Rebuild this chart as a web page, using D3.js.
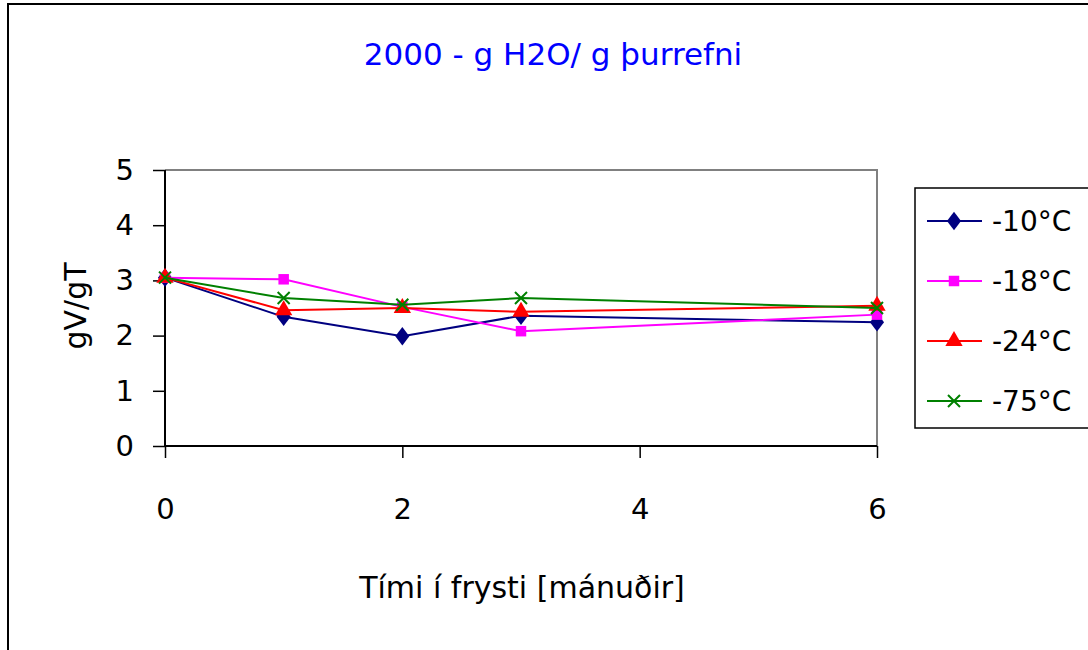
<!DOCTYPE html>
<html><head><meta charset="utf-8">
<script src="https://cdn.jsdelivr.net/npm/d3@7"></script>
<style>body{margin:0;background:#fff}svg{display:block}text{font-family:"Comic Sans MS","DejaVu Sans",sans-serif}</style>
</head><body><svg id="c" width="1088" height="650"></svg>
<script>
const months = [0, 1, 2, 3, 6];
const seriesNames = ["-10°C", "-18°C", "-24°C", "-75°C"];
const s10 = [3.05, 2.34, 1.99, 2.36, 2.24];
const s18 = [3.05, 3.02, 2.52, 2.08, 2.38];
const s24 = [3.05, 2.46, 2.50, 2.43, 2.54];
const s75 = [3.05, 2.68, 2.56, 2.68, 2.50];
const xTicks = [0, 2, 4, 6];
const yTicks = [0, 1, 2, 3, 4, 5];
const titleText = "2000 - g H2O/ g þurrefni";
const xTitle = "Tími í frysti [mánuðir]";
const yTitle = "gV/gT";

const colors = ["#000080", "#ff00ff", "#ff0000", "#008000"];
const symbols = [d3.symbolDiamond, d3.symbolSquare, d3.symbolTriangle, d3.symbolCross];
const data = [s10, s18, s24, s75];

const svg = d3.select("#c");
svg.append("rect").attr("x", 8).attr("y", 4).attr("width", 1100).attr("height", 700)
  .attr("fill", "#fff").attr("stroke", "#000").attr("stroke-width", 2);

const L = 165, R = 877, T = 170, B = 446;
const x = d3.scaleLinear().domain([0, 6]).range([L, R]);
const y = d3.scaleLinear().domain([0, 5]).range([B, T]);

svg.append("path").attr("d", `M${L},${T}H${R}V${B}`).attr("fill", "none").attr("stroke", "#808080").attr("stroke-width", 2);

const yAxis = svg.append("g").attr("transform", `translate(${L},0)`)
  .call(d3.axisLeft(y).tickValues(yTicks).tickSize(12).tickPadding(19).tickFormat(d3.format("d")));
const xAxis = svg.append("g").attr("transform", `translate(0,${B})`)
  .call(d3.axisBottom(x).tickValues(xTicks).tickSize(12).tickPadding(40).tickFormat(d3.format("d")));
[yAxis, xAxis].forEach(g => {
  g.select(".domain").attr("stroke", "#000").attr("stroke-width", 2);
  g.selectAll(".tick line").attr("stroke", "#000").attr("stroke-width", 1.5);
  g.selectAll("text").attr("font-size", 29).attr("fill", "#000").attr("font-family", "\"DejaVu Sans\", sans-serif");
});
yAxis.select(".domain").attr("d", `M0,${T}V${B}`);
xAxis.select(".domain").attr("d", `M${L},0H${R}`);

const line = d3.line().x((d, i) => x(months[i])).y(d => y(d));
function marker(g, k) {
  if (k === 3) {
    g.append("path").attr("d", "M-6,-6L6,6M-6,6L6,-6").attr("stroke", colors[k]).attr("stroke-width", 2).attr("fill", "none");
  } else {
    const size = k === 2 ? 130 : 110;
    g.append("path").attr("d", d3.symbol().type(symbols[k]).size(size)()).attr("fill", colors[k])
      .attr("transform", k === 0 ? "scale(1.25,0.95)" : null);
  }
}
data.forEach((vals, k) => {
  svg.append("path").datum(vals).attr("d", line).attr("fill", "none").attr("stroke", colors[k]).attr("stroke-width", 2);
  vals.forEach((v, i) => {
    const g = svg.append("g").attr("transform", `translate(${x(months[i])},${y(v)})`);
    marker(g, k);
  });
});

svg.append("text").attr("x", 553).attr("y", 65).attr("text-anchor", "middle").attr("font-size", 31).attr("fill", "#0000ff").text(titleText);
svg.append("text").attr("x", 522).attr("y", 598).attr("text-anchor", "middle").attr("font-size", 30).attr("fill", "#000").text(xTitle);
svg.append("text").attr("transform", "translate(86,306) rotate(-90)").attr("text-anchor", "middle").attr("font-size", 30).attr("fill", "#000").text(yTitle);

svg.append("rect").attr("x", 915).attr("y", 188).attr("width", 200).attr("height", 240).attr("fill", "#fff").attr("stroke", "#000").attr("stroke-width", 1.5);
seriesNames.forEach((n, k) => {
  const yy = 221 + k * 60;
  svg.append("line").attr("x1", 927).attr("x2", 982).attr("y1", yy).attr("y2", yy).attr("stroke", colors[k]).attr("stroke-width", 2);
  const g = svg.append("g").attr("transform", `translate(954,${yy})`);
  marker(g, k);
  svg.append("text").attr("x", 992).attr("y", yy + 10).attr("font-size", 28).attr("fill", "#000").text(n);
});
</script></body></html>
